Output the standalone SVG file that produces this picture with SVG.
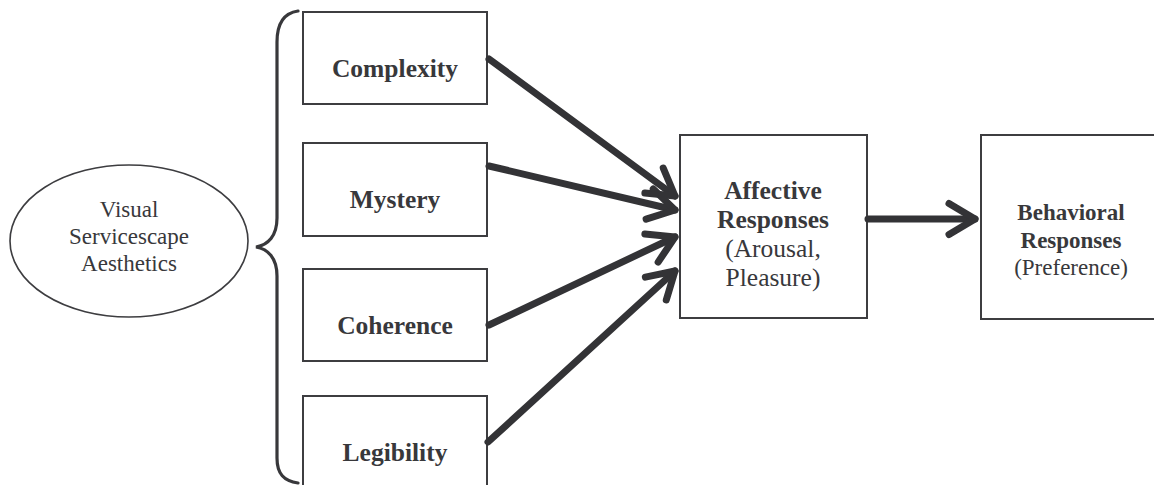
<svg xmlns="http://www.w3.org/2000/svg" width="1154" height="485" viewBox="0 0 1154 485">
  <style>
    .box { fill: #ffffff; stroke: #3d3d40; stroke-width: 2; }
    .oval { fill: #ffffff; stroke: #3d3d40; stroke-width: 1.6; }
    .label { font-family: "Liberation Serif", "Times New Roman", serif; fill: #38383b; text-anchor: middle; }
    .b { font-weight: bold; }
    .link { fill: none; stroke: #333336; stroke-width: 7; stroke-linecap: round; }
    .brace { fill: none; stroke: #38383b; stroke-width: 3.2; stroke-linecap: round; }
  </style>
  <defs>
    <marker id="chevron" markerUnits="userSpaceOnUse" markerWidth="44" markerHeight="44" viewBox="-36 -22 44 44" refX="0" refY="0" orient="auto" overflow="visible">
      <path d="M-26,-15.5 L0,0 L-26,15.5" fill="none" stroke="#333336" stroke-width="7" stroke-linecap="round" stroke-linejoin="round"/>
    </marker>
  </defs>
  <rect width="1154" height="485" fill="#ffffff"/>

  <!-- construct -->
  <g id="visual-aesthetics">
    <ellipse class="oval" cx="129" cy="241" rx="119" ry="76"/>
    <text class="label" font-size="23" x="129" y="217">Visual</text>
    <text class="label" font-size="23" x="129" y="244">Servicescape</text>
    <text class="label" font-size="23" x="129" y="271">Aesthetics</text>
  </g>

  <!-- curly brace grouping the four dimensions -->
  <g id="brace">
    <path class="brace" d="M298,11 C284,13 277,24 277,42 L277,218 C277,236 268,245 256,247 C268,249 277,258 277,276 L277,458 C277,474 284,481 298,483"/>
  </g>

  <g id="complexity">
    <rect class="box" x="303" y="12" width="184" height="92"/>
    <text class="label b" font-size="25.5" x="395" y="77">Complexity</text>
  </g>
  <g id="mystery">
    <rect class="box" x="303" y="143" width="184" height="93"/>
    <text class="label b" font-size="25.5" x="395" y="208">Mystery</text>
  </g>
  <g id="coherence">
    <rect class="box" x="303" y="269" width="184" height="92"/>
    <text class="label b" font-size="25.5" x="395" y="334">Coherence</text>
  </g>
  <g id="legibility">
    <rect class="box" x="303" y="396" width="184" height="100"/>
    <text class="label b" font-size="25.5" x="395" y="461">Legibility</text>
  </g>

  <g id="affective">
    <rect class="box" x="680" y="135" width="187" height="183"/>
    <text class="label b" font-size="25.5" x="773" y="199">Affective</text>
    <text class="label b" font-size="25.5" x="773" y="228">Responses</text>
    <text class="label" font-size="25.5" x="773" y="257">(Arousal,</text>
    <text class="label" font-size="25.5" x="773" y="286">Pleasure)</text>
  </g>

  <g id="behavioral">
    <rect class="box" x="981" y="135" width="180" height="184"/>
    <text class="label b" font-size="23" x="1071" y="220">Behavioral</text>
    <text class="label b" font-size="23" x="1071" y="248">Responses</text>
    <text class="label" font-size="23" x="1071" y="275">(Preference)</text>
  </g>

  <g id="connectors">
    <path class="link" marker-end="url(#chevron)" d="M489,59 L675,196"/>
    <path class="link" marker-end="url(#chevron)" d="M489,166 L675,210"/>
    <path class="link" marker-end="url(#chevron)" d="M489,325 L675,237"/>
    <path class="link" marker-end="url(#chevron)" d="M488,442 L675,271"/>
    <path class="link" marker-end="url(#chevron)" d="M868,219 L975,219"/>
  </g>
</svg>
